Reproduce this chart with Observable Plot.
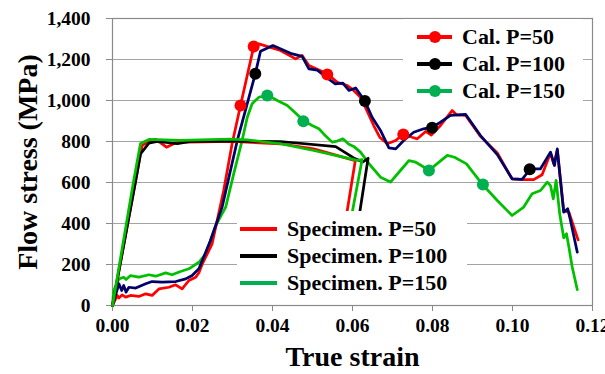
<!DOCTYPE html>
<html>
<head>
<meta charset="utf-8">
<script src="https://cdn.jsdelivr.net/npm/d3@7"></script>
<script src="https://cdn.jsdelivr.net/npm/@observablehq/plot@0.6"></script>
<style>
  html, body { margin: 0; padding: 0; background: #fff; }
  #wrap { position: relative; width: 605px; height: 374px; font-weight: bold; }
  .legend { position: absolute; background: #fff; }
  .row { position: absolute; height: 26px; display: flex; align-items: center; white-space: nowrap; color: #000; }
  .sw { position: relative; display: inline-block; height: 26px; flex: none; }
  .sw .ln { position: absolute; left: 0; right: 0; top: 11.5px; height: 3px; }
  .sw .dt { position: absolute; top: 7px; width: 12px; height: 12px; border-radius: 6px; }
</style>
</head>
<body>
<div id="wrap"></div>
<script>
// ---- tick values ----
const xTicks = [0, 0.02, 0.04, 0.06, 0.08, 0.10, 0.12];
const yTicks = [0, 200, 400, 600, 800, 1000, 1200, 1400];

// ---- calculated curves [strain, stress] ----
const calP50 = [[0,0],[0.0012,49],[0.0016,36],[0.0024,52],[0.0033,41],[0.0045,49],[0.0066,44],[0.0083,57],[0.0099,49],[0.0116,81],[0.0141,89],[0.0158,101],[0.0174,81],[0.0191,122],[0.0208,138],[0.0216,160],[0.0224,200],[0.0249,301],[0.0278,561],[0.0299,789],[0.032,976],[0.0353,1263],[0.0366,1276],[0.042,1244],[0.0458,1203],[0.0474,1220],[0.0491,1171],[0.0537,1130],[0.0562,1089],[0.0587,1073],[0.0603,1049],[0.062,1016],[0.0628,984],[0.0653,878],[0.0668,821],[0.0687,789],[0.0708,805],[0.0728,837],[0.0749,821],[0.0762,813],[0.0783,849],[0.0797,831],[0.082,878],[0.0849,951],[0.086,930],[0.0883,927],[0.092,825],[0.0962,744],[0.0999,618],[0.1028,614],[0.1053,614],[0.1074,638],[0.1095,744],[0.1103,691],[0.1112,756],[0.1128,463],[0.1141,455],[0.1164,320]];
const calP100 = [[0,0],[0.0016,106],[0.0023,73],[0.0028,98],[0.0034,65],[0.0041,89],[0.0058,85],[0.0083,106],[0.0099,117],[0.0124,114],[0.0158,117],[0.0183,130],[0.0199,146],[0.0216,179],[0.0245,317],[0.0274,480],[0.0312,805],[0.0357,1130],[0.037,1240],[0.0401,1268],[0.0445,1230],[0.0474,1215],[0.0491,1154],[0.0512,1148],[0.0545,1098],[0.0557,1081],[0.0576,1085],[0.0591,1049],[0.0608,1061],[0.0631,997],[0.0649,918],[0.067,854],[0.0691,769],[0.0708,764],[0.0728,805],[0.0753,845],[0.0778,862],[0.0799,870],[0.082,894],[0.0845,927],[0.0883,932],[0.092,829],[0.0962,736],[0.0999,618],[0.1024,615],[0.1045,667],[0.107,667],[0.1095,748],[0.1105,683],[0.1112,764],[0.1128,455],[0.1138,472],[0.1145,415],[0.1162,260]];
const calP150 = [[0,0],[0.0003,73],[0.0016,130],[0.0028,138],[0.0034,127],[0.0045,146],[0.0066,138],[0.0091,150],[0.0108,143],[0.0133,159],[0.0149,150],[0.017,166],[0.0191,179],[0.0216,211],[0.0233,252],[0.0258,390],[0.0283,480],[0.0303,642],[0.0324,805],[0.0337,918],[0.0349,984],[0.0366,1016],[0.0387,1027],[0.0412,1000],[0.0437,976],[0.0478,902],[0.0499,878],[0.0516,862],[0.0528,837],[0.0549,797],[0.0562,802],[0.0576,813],[0.0591,787],[0.0603,776],[0.062,748],[0.0645,683],[0.067,626],[0.0695,602],[0.0716,650],[0.0741,707],[0.0758,699],[0.0772,683],[0.0791,659],[0.0837,732],[0.0855,723],[0.0885,691],[0.0925,590],[0.0962,512],[0.0999,439],[0.1028,480],[0.1049,545],[0.107,561],[0.1087,602],[0.1095,585],[0.1102,520],[0.1109,610],[0.1118,447],[0.1128,330],[0.1135,350],[0.1141,285],[0.1149,190],[0.1162,77]];

// ---- calculated markers ----
const calP50Dots = [[0.032,976],[0.0353,1263],[0.0537,1127],[0.0727,834]];
const calP100Dots = [[0.0357,1130],[0.0631,997],[0.0799,867],[0.1043,665]];
const calP150Dots = [[0.0387,1024],[0.0477,899],[0.0791,659],[0.0926,590]];

// ---- specimen curves ----
const specP50 = [[0,0],[0.0058,610],[0.0074,780],[0.0091,802],[0.0108,810],[0.0135,772],[0.0162,797],[0.0187,797],[0.03,800],[0.042,789],[0.0503,764],[0.0607,707],[0.0585,440]];
const specP100 = [[0,0],[0.0058,610],[0.007,740],[0.0091,792],[0.0112,800],[0.0162,789],[0.0195,800],[0.03,802],[0.042,800],[0.0558,775],[0.0603,720],[0.0626,700],[0.0639,718],[0.0617,440]];
const specP150 = [[0,0],[0.0053,610],[0.007,790],[0.0091,810],[0.017,805],[0.0295,812],[0.0337,808],[0.042,789],[0.0503,756],[0.0612,708],[0.0624,712],[0.0598,440]];

const calLabels = ["Cal. P=50", "Cal. P=100", "Cal. P=150"];
const specLabels = ["Specimen. P=50", "Specimen. P=100", "Specimen. P=150"];
const xLabel = "True strain";
const yLabel = "Flow stress (MPa)";

// ---- font: pick a serif and scale it so widths match the reference ----
const FAM = '"Liberation Serif", "Tinos", "Times New Roman", "DejaVu Serif", serif';
const cv = document.createElement("canvas").getContext("2d");
cv.font = "bold 100px " + FAM;
const wRef = cv.measureText("Cal. P=100").width / 100; // em width
const k = Math.min(1.06, 4.68 / wRef); // Times bold ~4.68em
const fsTick = 19.5 * k, fsLeg = 22 * k, fsLab = 28 * k;

const RED = "#ff0000", NAVY = "#000066", BLACK = "#000000", GREEN = "#00c000", GREEN_DOT = "#00b050";
const sw = 2.75;
const L = (data, stroke) => Plot.line(data, {x: d => d[0], y: d => d[1], stroke, strokeWidth: sw, strokeLinejoin: "round"});
const D = (data, fill) => Plot.dot(data, {x: d => d[0], y: d => d[1], fill, r: 6, stroke: "none"});

const chart = Plot.plot({
  width: 605, height: 374,
  marginLeft: 112, marginRight: 13, marginTop: 18, marginBottom: 69,
  style: {fontFamily: FAM, fontWeight: "bold", fontSize: fsTick + "px", color: "#000", background: "#fff", overflow: "visible"},
  x: {domain: [0, 0.12]},
  y: {domain: [0, 1400]},
  marks: [
    Plot.gridY(yTicks, {stroke: "#a3a3a3", strokeOpacity: 1, strokeWidth: 1}),
    Plot.frame({stroke: "#8a8a8a", strokeWidth: 1.2}),
    Plot.axisX(xTicks, {tickSize: 6, tickPadding: 7, tickFormat: d3.format(".2f"), stroke: "#8a8a8a", label: null, fontSize: fsTick}),
    Plot.axisY(yTicks, {tickSize: 6, tickPadding: 16, tickFormat: d3.format(","), stroke: "#8a8a8a", label: null, fontSize: fsTick}),
    L(calP150, GREEN),
    L(calP50, RED),
    L(calP100, NAVY),
    L(specP50, RED),
    L(specP100, BLACK),
    L(specP150, GREEN),
    D(calP50Dots, RED),
    D(calP100Dots, BLACK),
    D(calP150Dots, GREEN_DOT),
    Plot.text([xLabel], {frameAnchor: "bottom", dy: 52, textAnchor: "middle", lineAnchor: "middle", fontSize: fsLab, fontWeight: "bold", fill: "#000"}),
    Plot.text([yLabel], {frameAnchor: "left", dx: -84, rotate: -90, textAnchor: "middle", lineAnchor: "middle", fontSize: fsLab, fontWeight: "bold", fill: "#000"})
  ]
});

const wrap = document.getElementById("wrap");
wrap.style.fontFamily = FAM;
wrap.appendChild(chart);

function legend(box, rows) {
  const lg = document.createElement("div");
  lg.className = "legend";
  Object.assign(lg.style, {left: box.left + "px", top: box.top + "px", width: box.width + "px", height: box.height + "px"});
  wrap.appendChild(lg);
  rows.forEach(r => {
    const row = document.createElement("div");
    row.className = "row";
    row.style.fontSize = fsLeg + "px";
    row.style.left = (r.x - box.left) + "px";
    row.style.top = (r.y - 13 - box.top) + "px";
    const s = document.createElement("span");
    s.className = "sw";
    s.style.width = r.w + "px";
    s.style.marginRight = r.gap + "px";
    const ln = document.createElement("span");
    ln.className = "ln";
    ln.style.background = r.color;
    ln.style.height = r.th + "px";
    ln.style.top = (13 - r.th / 2) + "px";
    s.appendChild(ln);
    if (r.dot) {
      const dt = document.createElement("span");
      dt.className = "dt";
      dt.style.background = r.dot;
      dt.style.left = (r.w / 2 - 6) + "px";
      s.appendChild(dt);
    }
    row.appendChild(s);
    row.appendChild(document.createTextNode(r.label));
    lg.appendChild(row);
  });
}

const calColors = [RED, BLACK, GREEN_DOT];
legend({left: 403, top: 19, width: 180, height: 85},
  calLabels.map((label, i) => ({label, x: 417, y: 37 + i * 27, w: 35, gap: 10, color: calColors[i], dot: calColors[i], th: 3.5})));

const specColors = [RED, BLACK, GREEN_DOT];
legend({left: 237, top: 211, width: 230, height: 93},
  specLabels.map((label, i) => ({label, x: 240, y: 229 + i * 27, w: 37, gap: 10, color: specColors[i], dot: null, th: 4})));
</script>
</body>
</html>
